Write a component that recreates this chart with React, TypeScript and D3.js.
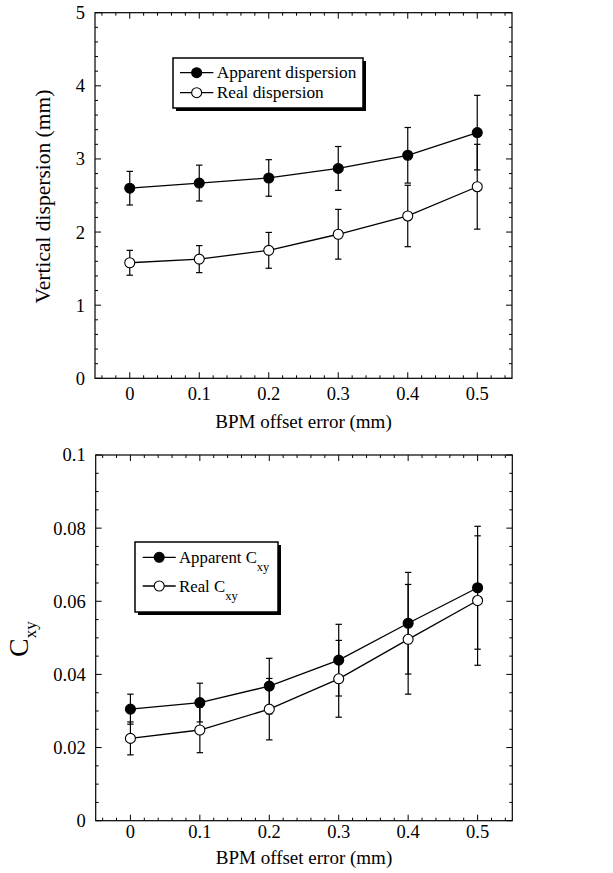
import React from "react";
import * as d3 from "d3";

const bpmOffsets = [0, 0.1, 0.2, 0.3, 0.4, 0.5];
const xTickValues = [0, 0.1, 0.2, 0.3, 0.4, 0.5];
const xTickLabels = ["0", "0.1", "0.2", "0.3", "0.4", "0.5"];

const apparentDispersion = [2.6, 2.67, 2.74, 2.87, 3.05, 3.36];
const apparentDispersionErr = [0.23, 0.245, 0.25, 0.3, 0.38, 0.51];
const realDispersion = [1.58, 1.63, 1.75, 1.97, 2.22, 2.62];
const realDispersionErr = [0.17, 0.185, 0.245, 0.34, 0.42, 0.58];
const dispersionTicks = [0, 1, 2, 3, 4, 5];
const dispersionTickLabels = ["0", "1", "2", "3", "4", "5"];

const apparentCxy = [0.0305, 0.0323, 0.0368, 0.0439, 0.054, 0.0637];
const apparentCxyErr = [0.0041, 0.0053, 0.0076, 0.0098, 0.0139, 0.0168];
const realCxy = [0.0225, 0.0248, 0.0305, 0.0388, 0.0496, 0.0602];
const realCxyErr = [0.0045, 0.0062, 0.0084, 0.0105, 0.015, 0.0177];
const cxyTicks = [0, 0.02, 0.04, 0.06, 0.08, 0.1];
const cxyTickLabels = ["0", "0.02", "0.04", "0.06", "0.08", "0.1"];

const FONT = "'Liberation Serif', 'Times New Roman', serif";

type Series = { values: number[]; errs: number[]; filled: boolean };

type PanelProps = {
  left: number;
  right: number;
  top: number;
  bottom: number;
  yDomain: [number, number];
  yTicks: number[];
  yTickLabels: string[];
  yMinorStep: number;
  series: Series[];
  xTickLabelOffset: number;
  xTitleOffset: number;
};

function Panel(p: PanelProps) {
  const x = d3.scaleLinear().domain([-0.05, 0.55]).range([p.left, p.right]);
  const y = d3.scaleLinear().domain(p.yDomain).range([p.bottom, p.top]);
  const xMinor = d3.range(-0.04, 0.5401, 0.02).filter(
    (v) => !xTickValues.some((t) => Math.abs(t - v) < 1e-6)
  );
  const nMinor = Math.round((p.yDomain[1] - p.yDomain[0]) / p.yMinorStep);
  const yMinor = d3
    .range(0, nMinor + 1)
    .map((i) => p.yDomain[0] + i * p.yMinorStep)
    .filter((v) => !p.yTicks.some((t) => Math.abs(t - v) < 1e-9));
  const major = 6;
  const minor = 3;
  const line = d3
    .line<number>()
    .x((_, i) => x(bpmOffsets[i]))
    .y((d) => y(d));
  return (
    <g>
      {/* ticks */}
      {xTickValues.map((v, i) => (
        <g key={"xt" + i}>
          <line x1={x(v)} x2={x(v)} y1={p.bottom} y2={p.bottom - major} stroke="#000" strokeWidth={1} />
          <line x1={x(v)} x2={x(v)} y1={p.top} y2={p.top + major} stroke="#000" strokeWidth={1} />
          <text x={x(v)} y={p.bottom + p.xTickLabelOffset} textAnchor="middle" fontSize={18.5} fontFamily={FONT}>
            {xTickLabels[i]}
          </text>
        </g>
      ))}
      {xMinor.map((v, i) => (
        <g key={"xm" + i}>
          <line x1={x(v)} x2={x(v)} y1={p.bottom} y2={p.bottom - minor} stroke="#000" strokeWidth={1} />
          <line x1={x(v)} x2={x(v)} y1={p.top} y2={p.top + minor} stroke="#000" strokeWidth={1} />
        </g>
      ))}
      {p.yTicks.map((v, i) => (
        <g key={"yt" + i}>
          <line x1={p.left} x2={p.left + major} y1={y(v)} y2={y(v)} stroke="#000" strokeWidth={1} />
          <line x1={p.right} x2={p.right - major} y1={y(v)} y2={y(v)} stroke="#000" strokeWidth={1} />
          <text x={p.left - 10} y={y(v)} dy="0.35em" textAnchor="end" fontSize={18.5} fontFamily={FONT}>
            {p.yTickLabels[i]}
          </text>
        </g>
      ))}
      {yMinor.map((v, i) => (
        <g key={"ym" + i}>
          <line x1={p.left} x2={p.left + minor} y1={y(v)} y2={y(v)} stroke="#000" strokeWidth={1} />
          <line x1={p.right} x2={p.right - minor} y1={y(v)} y2={y(v)} stroke="#000" strokeWidth={1} />
        </g>
      ))}
      <rect x={p.left} y={p.top} width={p.right - p.left} height={p.bottom - p.top} fill="none" stroke="#000" strokeWidth={1.2} />
      <text x={(p.left + p.right) / 2} y={p.bottom + p.xTitleOffset} textAnchor="middle" fontSize={19} fontFamily={FONT}>
        BPM offset error (mm)
      </text>
      {/* lines */}
      {p.series.map((s, si) => (
        <path key={"l" + si} d={line(s.values) || ""} fill="none" stroke="#000" strokeWidth={1.3} />
      ))}
      {/* error bars */}
      {p.series.map((s, si) =>
        s.values.map((v, i) => {
          const cx = x(bpmOffsets[i]);
          const y1 = y(v + s.errs[i]);
          const y2 = y(v - s.errs[i]);
          return (
            <g key={"e" + si + "-" + i} stroke="#000" strokeWidth={1.2}>
              <line x1={cx} x2={cx} y1={y1} y2={y2} />
              <line x1={cx - 3.2} x2={cx + 3.2} y1={y1} y2={y1} />
              <line x1={cx - 3.2} x2={cx + 3.2} y1={y2} y2={y2} />
            </g>
          );
        })
      )}
      {/* markers */}
      {p.series.map((s, si) =>
        s.values.map((v, i) => (
          <circle
            key={"m" + si + "-" + i}
            cx={x(bpmOffsets[i])}
            cy={y(v)}
            r={5}
            fill={s.filled ? "#000" : "#fff"}
            stroke="#000"
            strokeWidth={1.1}
          />
        ))
      )}
    </g>
  );
}

function LegendRow({ x0, x1, cy, filled, children, textX }: any) {
  const mx = (x0 + x1) / 2;
  return (
    <g>
      <line x1={x0} x2={x1} y1={cy} y2={cy} stroke="#000" strokeWidth={1.3} />
      <circle cx={mx} cy={cy} r={5} fill={filled ? "#000" : "#fff"} stroke="#000" strokeWidth={1.1} />
      {children(textX, cy)}
    </g>
  );
}

export default function App() {
  return (
    <svg
      width={613}
      height={873}
      style={{ position: "absolute", left: 0, top: 0, background: "#fff" }}
      fontFamily={FONT}
    >
      <rect x={0} y={0} width={613} height={873} fill="#fff" />
      <Panel
        left={95}
        right={512}
        top={12.7}
        bottom={378.3}
        yDomain={[0, 5]}
        yTicks={dispersionTicks}
        yTickLabels={dispersionTickLabels}
        yMinorStep={0.2}
        series={[
          { values: apparentDispersion, errs: apparentDispersionErr, filled: true },
          { values: realDispersion, errs: realDispersionErr, filled: false },
        ]}
        xTickLabelOffset={21.5}
        xTitleOffset={50}
      />
      <text
        transform="translate(50,196.5) rotate(-90)"
        textAnchor="middle"
        fontSize={21.5}
        fontFamily={FONT}
      >
        Vertical dispersion (mm)
      </text>
      {/* legend 1 */}
      <rect x={176} y={61} width={190} height={50} fill="#000" />
      <rect x={173} y={58} width={190} height={50} fill="#fff" stroke="#000" strokeWidth={1.5} />
      <LegendRow x0={180} x1={213.3} cy={72.7} filled={true} textX={216.7}>
        {(tx: number, cy: number) => (
          <text x={tx} y={cy} dy="0.33em" fontSize={17.3} fontFamily={FONT}>
            Apparent dispersion
          </text>
        )}
      </LegendRow>
      <LegendRow x0={180} x1={213.3} cy={92.7} filled={false} textX={216.7}>
        {(tx: number, cy: number) => (
          <text x={tx} y={cy} dy="0.33em" fontSize={17.3} fontFamily={FONT}>
            Real dispersion
          </text>
        )}
      </LegendRow>

      <Panel
        left={95.7}
        right={512.3}
        top={455}
        bottom={820.7}
        yDomain={[0, 0.1]}
        yTicks={cxyTicks}
        yTickLabels={cxyTickLabels}
        yMinorStep={0.005}
        series={[
          { values: apparentCxy, errs: apparentCxyErr, filled: true },
          { values: realCxy, errs: realCxyErr, filled: false },
        ]}
        xTickLabelOffset={17.5}
        xTitleOffset={43.5}
      />
      <text transform="translate(28,657) rotate(-90)" fontSize={28} fontFamily={FONT}>
        C
        <tspan dy={8} fontSize={17}>
          xy
        </tspan>
      </text>
      {/* legend 2 */}
      <rect x={138} y={545} width={143} height={70} fill="#000" />
      <rect x={135} y={542} width={143} height={70} fill="#fff" stroke="#000" strokeWidth={1.5} />
      <LegendRow x0={142.7} x1={175.7} cy={557.3} filled={true} textX={179}>
        {(tx: number, cy: number) => (
          <text x={tx} y={cy} dy="0.33em" fontSize={16.8} fontFamily={FONT}>
            Apparent C
            <tspan dy={8} fontSize={12.5}>
              xy
            </tspan>
          </text>
        )}
      </LegendRow>
      <LegendRow x0={142.7} x1={175.7} cy={586} filled={false} textX={179}>
        {(tx: number, cy: number) => (
          <text x={tx} y={cy} dy="0.33em" fontSize={16.8} fontFamily={FONT}>
            Real C
            <tspan dy={8} fontSize={12.5}>
              xy
            </tspan>
          </text>
        )}
      </LegendRow>
    </svg>
  );
}
